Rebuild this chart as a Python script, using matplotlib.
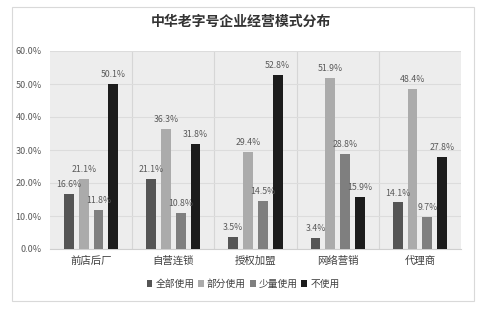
import numpy as np
import matplotlib.pyplot as plt
from matplotlib.patches import Rectangle

plt.rcParams['font.family'] = ['Noto Sans CJK SC', 'DejaVu Sans']

# 数据
categories = ['前店后厂', '自营连锁', '授权加盟', '网络营销', '代理商']
series_names = ['全部使用', '部分使用', '少量使用', '不使用']
quanbu = [16.6, 21.1, 3.5, 3.4, 14.1]
bufen = [21.1, 36.3, 29.4, 51.9, 48.4]
shaoliang = [11.8, 10.8, 14.5, 28.8, 9.7]
bushiyong = [50.1, 31.8, 52.8, 15.9, 27.8]
colors = ['#555555', '#ababab', '#7f7f7f', '#1c1c1c']

fig = plt.figure(figsize=(4.82, 3.10), dpi=100)
fig.patches.append(Rectangle((12/482, 1 - 301/310), 462/482, 294/310,
                             transform=fig.transFigure, fill=False,
                             edgecolor='#d9d9d9', linewidth=0.8))

ax = fig.add_axes([50/482, 1 - 249/310, 411/482, 198/310])
ax.set_facecolor('#ededed')

x = np.arange(len(categories))
w = 0.12
step = 0.18
data = [quanbu, bufen, shaoliang, bushiyong]
for i, vals in enumerate(data):
    pos = x + (i - 1.5) * step
    ax.bar(pos, vals, width=w, color=colors[i], label=series_names[i], zorder=3)
    for p, v in zip(pos, vals):
        ax.text(p, v + 1.5, f'{v:.1f}%', ha='center', va='bottom',
                fontsize=6.3, color='#5a5a5a', zorder=4)

ax.set_xlim(-0.5, len(categories) - 0.5)
ax.set_ylim(0, 60)
ax.set_yticks(np.arange(0, 61, 10))
ax.set_yticklabels([f'{t:.1f}%' for t in np.arange(0, 61, 10)])
ax.set_xticks(x)
ax.set_xticklabels(categories)
ax.tick_params(axis='y', labelsize=6.5, colors='#595959', length=0, pad=6)
ax.tick_params(axis='x', labelsize=7.5, colors='#404040', length=0, pad=5)

ax.grid(axis='y', color='#dcdcdc', linewidth=0.8, zorder=0)
for b in np.arange(0.5, len(categories) - 0.5, 1):
    ax.axvline(b, color='#d6d6d6', linewidth=0.8, zorder=1)
for s in ax.spines.values():
    s.set_visible(False)
ax.spines['bottom'].set_visible(True)
ax.spines['bottom'].set_color('#cfcfcf')

fig.text(0.5, 1 - 22/310, '中华老字号企业经营模式分布', ha='center', va='center',
         fontsize=10, fontweight='bold', color='#333333')

fig.legend(loc='center', bbox_to_anchor=(243/482, 1 - 284/310), ncol=4,
           frameon=False, fontsize=7, handlelength=0.6, handleheight=0.6,
           handletextpad=0.3, columnspacing=0.4, labelcolor='#404040')

fig.savefig('out.png', dpi=100)
